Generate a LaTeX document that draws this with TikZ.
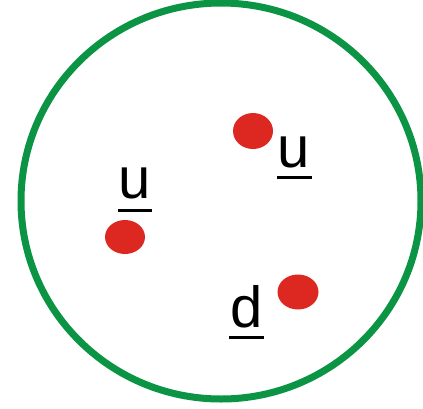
\documentclass[tikz,border=0pt]{standalone}
\usepackage{fontspec}
\setmainfont{Liberation Sans}
\usetikzlibrary{shapes.geometric}
\definecolor{ringgreen}{RGB}{10,148,68}
\definecolor{quarkred}{RGB}{220,40,32}
\begin{document}
\begin{tikzpicture}[x=1pt,y=-1pt,
  quark/.style={ellipse,fill=quarkred,draw=none,inner sep=0pt},
  lbl/.style={anchor=base,inner sep=0pt,font=\fontsize{58}{60}\selectfont},
  uline/.style={line width=3pt}]
\useasboundingbox (0,0) rectangle (423,408);
\draw[ringgreen,line width=7pt] (221,201) ellipse [x radius=200,y radius=198];
\node[quark,minimum width=40pt,minimum height=36pt] (q1) at (253,131) {};
\node[quark,minimum width=40pt,minimum height=34pt] (q2) at (125,237) {};
\node[quark,minimum width=41pt,minimum height=35pt] (q3) at (298,292) {};
\node[lbl] (l1) at (135,198) {u};
\node[lbl] (l2) at (294,167) {u};
\node[lbl] (l3) at (247,327) {d};
\coordinate (a1) at (118,210); \coordinate (b1) at (152,210);
\coordinate (a2) at (277,177); \coordinate (b2) at (312,177);
\coordinate (a3) at (229,337); \coordinate (b3) at (264,337);
\draw[uline] (a1) -- (b1);
\draw[uline] (a2) -- (b2);
\draw[uline] (a3) -- (b3);
\end{tikzpicture}
\end{document}
